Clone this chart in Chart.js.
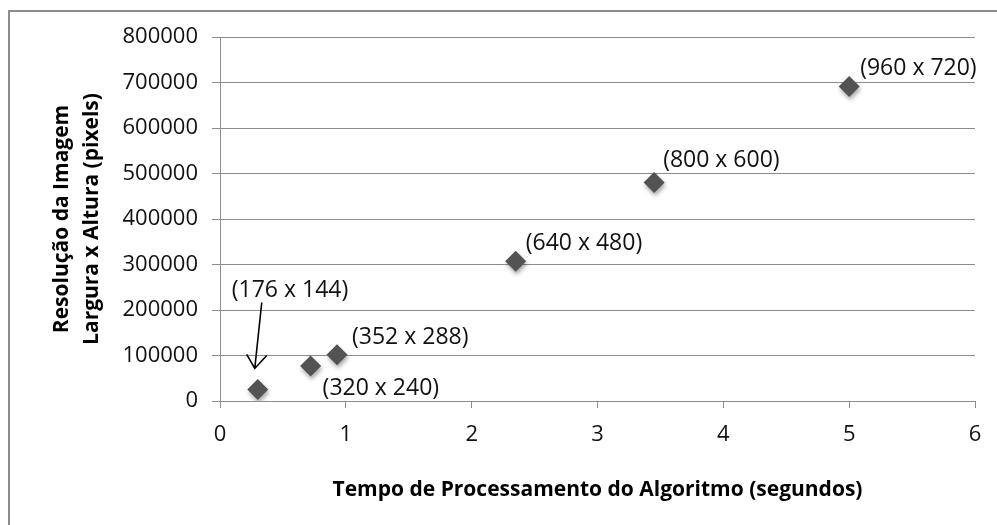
<!DOCTYPE html>
<html>
<head>
<meta charset="utf-8">
<script src="https://cdn.jsdelivr.net/npm/chart.js@4.4.1/dist/chart.umd.min.js"></script>
<style>
  body { margin: 0; background: #fff; }
  #wrap { position: relative; width: 997px; height: 525px; overflow: hidden; }
  #frame { position: absolute; left: 8px; top: 10px; width: 1010px; height: 540px; border: 2px solid #8c8c8c; box-sizing: border-box; }
  #chartBox { position: absolute; left: 0; top: 0; width: 997px; height: 525px; }
</style>
</head>
<body>
<div id="wrap">
  <div id="frame"></div>
  <div id="chartBox"><canvas id="grafico"></canvas></div>
</div>
<script>
// dados
const tempos = [0.30, 0.72, 0.93, 2.35, 3.45, 5.0];
const resolucoes = [25344, 76800, 101376, 307200, 480000, 691200];
const rotulos = ['(176 x 144)', '(320 x 240)', '(352 x 288)', '(640 x 480)', '(800 x 600)', '(960 x 720)'];

// deslocamento de cada rotulo em relacao ao ponto (px)
const deslocRotulo = [[-26, -99], [12, 22], [15, -17], [10, -18], [9, -22], [11, -18]];

const fonte = 'Open Sans';

const sombraPontos = {
    id: 'sombraPontos',
    beforeDatasetsDraw(chart) {
        const ctx = chart.ctx;
        ctx.save();
        ctx.shadowColor = 'rgba(0,0,0,0.35)';
        ctx.shadowBlur = 4;
        ctx.shadowOffsetX = 1;
        ctx.shadowOffsetY = 3;
    },
    afterDatasetsDraw(chart) {
        chart.ctx.restore();
    }
};

const rotulosPontos = {
    id: 'rotulosPontos',
    afterDraw(chart) {
        const ctx = chart.ctx;
        const sx = chart.scales.x, sy = chart.scales.y;
        ctx.save();
        ctx.font = '23px "' + fonte + '"';
        ctx.fillStyle = '#111';
        ctx.textBaseline = 'middle';
        ctx.textAlign = 'left';
        rotulos.forEach((txt, i) => {
            const px = sx.getPixelForValue(tempos[i]);
            const py = sy.getPixelForValue(resolucoes[i]);
            ctx.fillText(txt, px + deslocRotulo[i][0], py + deslocRotulo[i][1]);
        });
        // seta do primeiro rotulo ate o ponto
        const ax = sx.getPixelForValue(tempos[0]);
        const ay = sy.getPixelForValue(resolucoes[0]);
        const tipX = ax - 3, tipY = ay - 21;
        ctx.strokeStyle = '#000';
        ctx.lineWidth = 1.6;
        ctx.beginPath();
        ctx.moveTo(ax + 4, ay - 87);
        ctx.lineTo(tipX, tipY);
        ctx.moveTo(tipX - 8, tipY - 14);
        ctx.lineTo(tipX, tipY);
        ctx.lineTo(tipX + 12, tipY - 13);
        ctx.stroke();
        ctx.restore();
    }
};

const ctx = document.getElementById('grafico').getContext('2d');
new Chart(ctx, {
    type: 'scatter',
    data: {
        datasets: [{
            label: 'Resolucao',
            data: tempos.map((t, i) => ({ x: t, y: resolucoes[i] })),
            pointStyle: 'rectRot',
            pointRadius: 10.5,
            pointHoverRadius: 10.5,
            backgroundColor: '#535353',
            borderColor: '#535353',
            borderWidth: 0,
        }],
    },
    options: {
        responsive: true,
        maintainAspectRatio: false,
        animation: false,
        layout: { padding: { top: 37, right: 22, left: 0, bottom: 0 } },
        plugins: {
            legend: { display: false },
            tooltip: { enabled: false },
        },
        scales: {
            x: {
                type: 'linear',
                min: 0,
                max: 6,
                ticks: { stepSize: 1, color: '#111', padding: 14, font: { family: fonte, size: 22 } },
                grid: { drawOnChartArea: false, color: '#8c8c8c', tickLength: 7, tickColor: '#8c8c8c' },
                border: { color: '#8c8c8c', width: 1 },
                title: {
                    display: true,
                    text: 'Tempo de Processamento do Algoritmo (segundos)',
                    color: '#000',
                    font: { family: fonte, size: 21, weight: 'bold' },
                    padding: { top: 0, bottom: 22 },
                },
                afterFit(scale) { scale.height = 124; },
            },
            y: {
                min: 0,
                max: 800000,
                ticks: {
                    stepSize: 100000,
                    color: '#111',
                    padding: 14,
                    font: { family: fonte, size: 22 },
                    callback: (v) => String(v),
                },
                grid: { color: '#8c8c8c', tickLength: 8, tickColor: '#8c8c8c' },
                border: { color: '#8c8c8c', width: 1 },
                title: {
                    display: true,
                    text: ['Resolução da Imagem', 'Largura x Altura (pixels)'],
                    color: '#000',
                    font: { family: fonte, size: 21, weight: 'bold', lineHeight: 1.43 },
                    padding: { top: 47, bottom: 0 },
                },
                afterFit(scale) { scale.width = 220; },
            },
        },
    },
    plugins: [sombraPontos, rotulosPontos],
});
</script>
</body>
</html>
